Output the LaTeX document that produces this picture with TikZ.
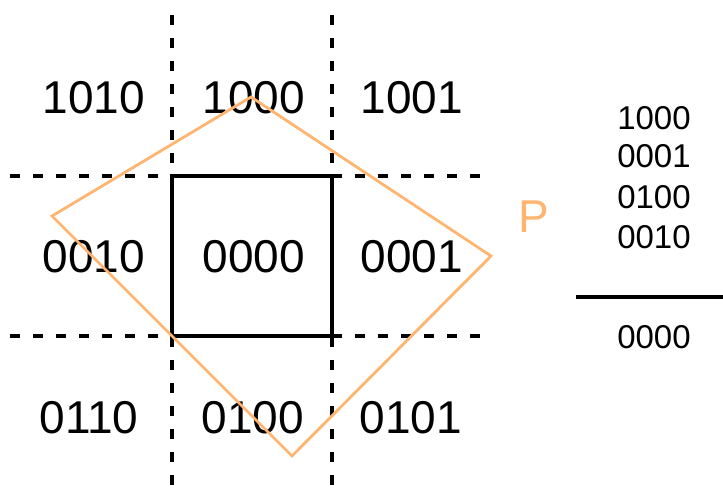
\documentclass[tikz,border=0pt]{standalone}
\usepackage{fontspec}
\setmainfont{Liberation Sans}
\definecolor{porange}{HTML}{FFB570}
\tikzset{
  grid/.style={line width=3.2pt, dash pattern=on 10pt off 13pt},
  win/.style={line width=3.2pt},
  poly/.style={draw=porange, line width=2.8pt, line join=miter},
  code/.style={inner sep=0pt, font=\fontsize{46}{50}\selectfont},
  small/.style={inner sep=0pt, font=\fontsize{33}{36}\selectfont},
}
\begin{document}
\begin{tikzpicture}[x=1pt,y=-1pt]
\useasboundingbox (0,0) rectangle (723,493);
% grid coordinates
\coordinate (v1t) at (172,15);  \coordinate (v1b) at (172,493);
\coordinate (v2t) at (332,15);  \coordinate (v2b) at (332,493);
\coordinate (h1l) at (10,176);  \coordinate (h1r) at (490,176);
\coordinate (h2l) at (10,336);  \coordinate (h2r) at (490,336);
\draw[grid] (v1t) -- (v1b);
\draw[grid] (v2t) -- (v2b);
\draw[grid] (h1l) -- (h1r);
\draw[grid] (h2l) -- (h2r);
% clip window
\coordinate (wa) at (172,176); \coordinate (wb) at (332,336);
\draw[win] (wa) rectangle (wb);
% labels
\node[code] (c1010) at (94,98) {1010};
\node[code] (c1000) at (254,98) {1000};
\node[code] (c1001) at (412,98) {1001};
\node[code] (c0010) at (94,257) {0010};
\node[code] (c0000) at (254,257) {0000};
\node[code] (c0001) at (412,257) {0001};
\node[code] (c0110) at (89,418) {0110};
\node[code] (c0100) at (253,418) {0100};
\node[code] (c0101) at (411,418) {0101};
% polygon P
\coordinate (pt) at (251,97);
\coordinate (pr) at (491,256);
\coordinate (pb) at (292,456);
\coordinate (pl) at (52,216);
\draw[poly] (pt) -- (pr) -- (pb) -- (pl) -- cycle;
\node[code, text=porange] (P) at (534,217) {P};
% right side
\node[small] (r1) at (654,118) {1000};
\node[small] (r2) at (654,156) {0001};
\node[small] (r3) at (654,197) {0100};
\node[small] (r4) at (654,237) {0010};
\coordinate (la) at (576,297); \coordinate (lb) at (723,297);
\draw[line width=3.4pt] (la) -- (lb);
\node[small] (r5) at (654,337) {0000};
\end{tikzpicture}
\end{document}
